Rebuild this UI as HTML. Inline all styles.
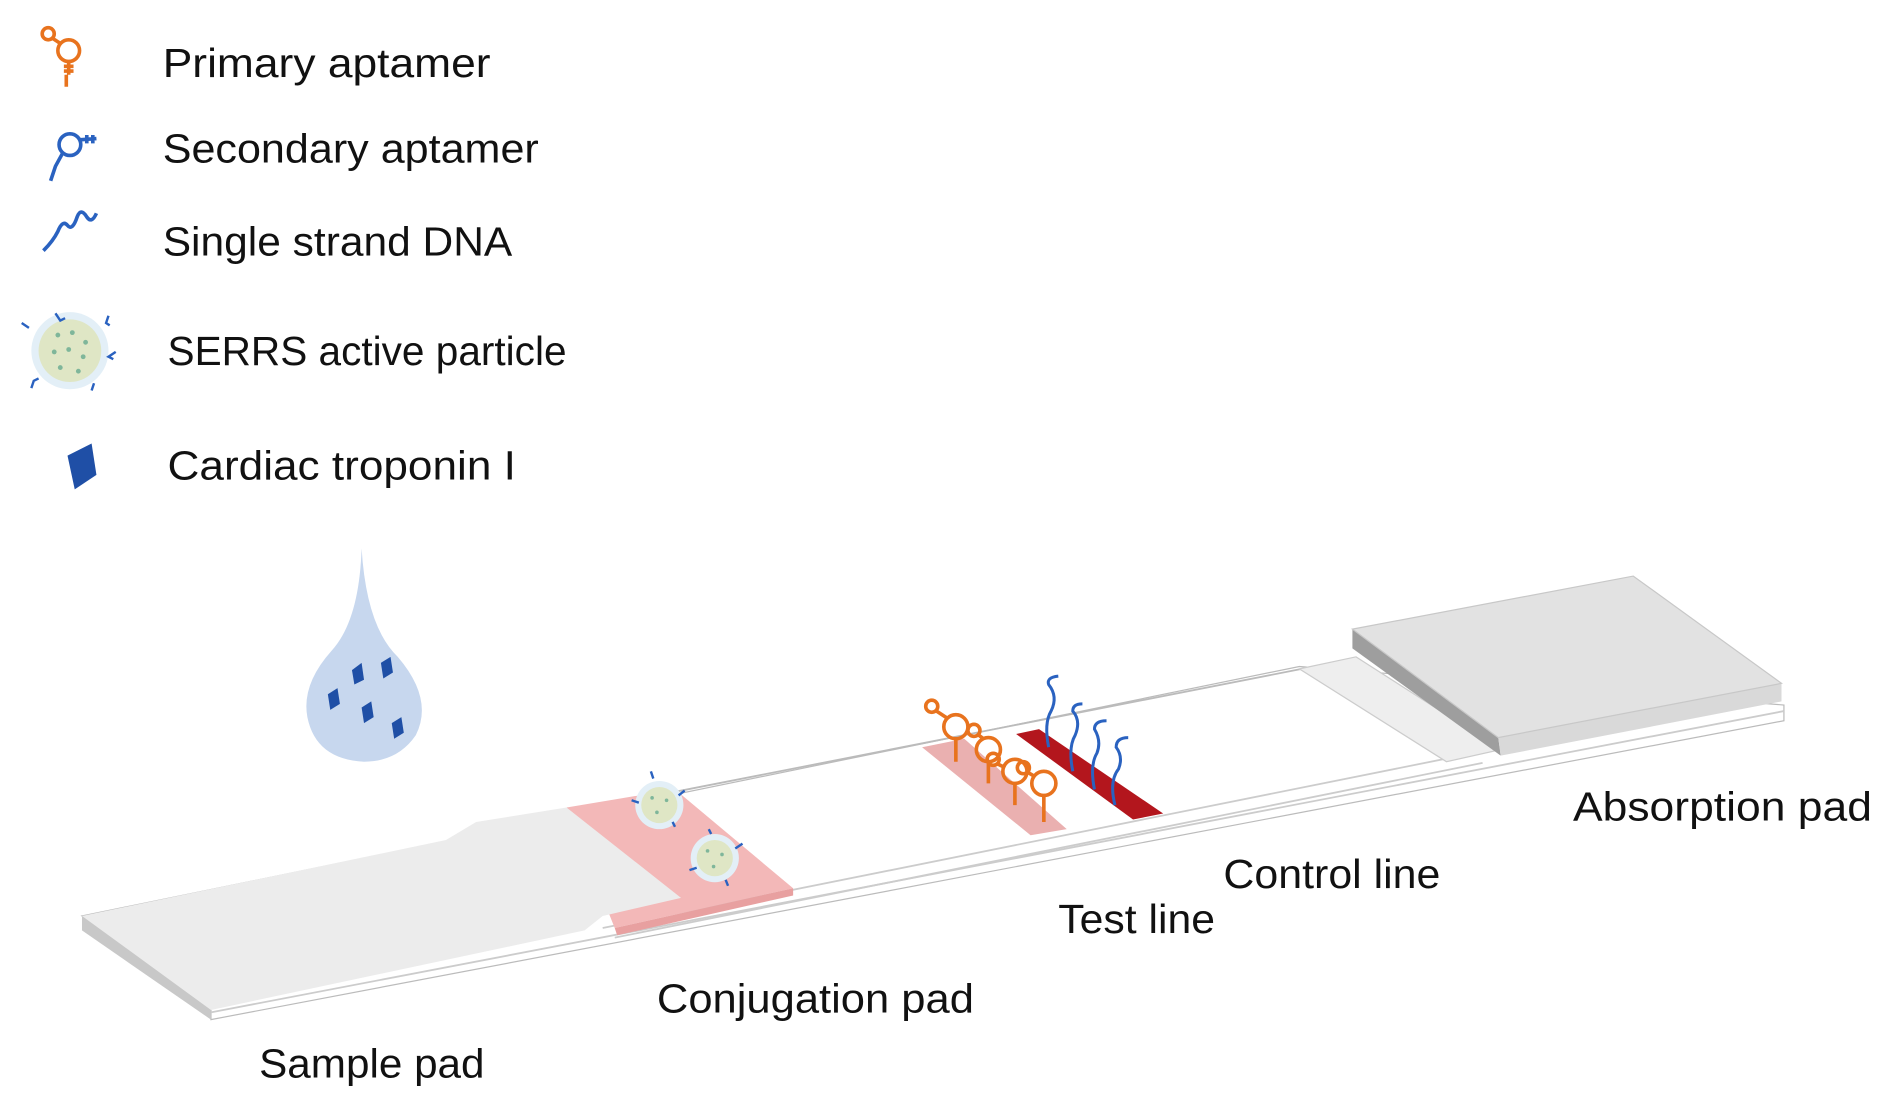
<!DOCTYPE html>
<html><head><meta charset="utf-8"><style>
html,body{margin:0;padding:0;background:#fff;width:1890px;height:1110px;overflow:hidden}
svg{display:block}
text{font-family:"Liberation Sans",sans-serif;fill:#111}
</style></head><body>
<svg width="1890" height="1110" viewBox="0 0 1568 921" preserveAspectRatio="none" xmlns="http://www.w3.org/2000/svg">
<!-- Legend icons -->
<g fill="none" stroke="#e8731e" stroke-width="3">
<circle cx="40" cy="28" r="5"/><path d="M44 32 L50 36"/><circle cx="57" cy="42" r="9"/><path d="M57 51 L57 62 M53 55 L61 55 M53 59 L61 59 M55 62 L55 72"/>
</g>
<g fill="none" stroke="#2a62c0" stroke-width="3">
<circle cx="58" cy="120" r="9"/><path d="M66 116 L80 115 M72 112 L72 119 M77 112 L77 119 M52 127 L46 138 L42 150"/>
<path d="M36 208 Q44 200 48 192 Q52 182 56 187 Q60 192 64 180 Q67 172 72 180 Q76 186 80 177"/>
</g>
<circle cx="58" cy="291" r="32" fill="#e3eff7"/><circle cx="58" cy="291" r="26" fill="#dfe6c5"/>
<g fill="#7fb69a"><circle cx="48" cy="278" r="2"/><circle cx="60" cy="276" r="2"/><circle cx="71" cy="284" r="2"/><circle cx="45" cy="292" r="2"/><circle cx="57" cy="290" r="2"/><circle cx="69" cy="296" r="2"/><circle cx="50" cy="305" r="2"/><circle cx="65" cy="308" r="2"/></g>
<g fill="none" stroke="#2a62c0" stroke-width="2"><path d="M46 260 l4 6 l4 -2 M90 262 l-2 6 l3 2 M18 268 l6 4 M96 292 l-6 4 l4 2 M26 322 l2 -6 l4 -2 M76 324 l2 -6"/></g>
<polygon points="56,378 76,368 80,394 62,406" fill="#1f4fa6"/>
<g font-size="34">
<text x="135" y="64" textLength="272" lengthAdjust="spacingAndGlyphs">Primary aptamer</text>
<text x="135" y="135" textLength="312" lengthAdjust="spacingAndGlyphs">Secondary aptamer</text>
<text x="135" y="212" textLength="290" lengthAdjust="spacingAndGlyphs">Single strand DNA</text>
<text x="139" y="303" textLength="331" lengthAdjust="spacingAndGlyphs">SERRS active particle</text>
<text x="139" y="398" textLength="289" lengthAdjust="spacingAndGlyphs">Cardiac troponin I</text>
</g>
<!-- droplet -->
<path d="M300 455 Q304 520 330 545 Q360 580 345 610 Q330 632 302 632 Q262 630 255 595 Q250 568 275 540 Q298 515 300 455 Z" fill="#c7d7ee"/>
<g fill="#1f4fa6"><polygon points="292,556 300,550 302,564 294,568"/><polygon points="316,550 324,545 326,558 318,563"/><polygon points="272,576 280,571 282,584 274,589"/><polygon points="300,587 308,582 310,595 302,600"/><polygon points="325,600 333,595 335,608 327,613"/></g>
<!-- backing strip -->
<polygon points="68,760 1078,553 1480,585 1480,598 175,846 175,838" fill="#fff" stroke="#bbb" stroke-width="1"/>
<polygon points="68,760 175,838 175,846 68,772" fill="#c8c8c8"/>
<line x1="175" y1="840" x2="1480" y2="590" stroke="#ccc" stroke-width="1.5"/>
<line x1="500" y1="770" x2="1222" y2="625" stroke="#ccc" stroke-width="1.5"/>
<line x1="510" y1="778" x2="1230" y2="633" stroke="#ccc" stroke-width="1.5"/>
<line x1="560" y1="657" x2="1080" y2="555" stroke="#bbb" stroke-width="1.5"/>
<!-- conjugation pad -->
<polygon points="470,670 560,655 658,737 510,770" fill="#f3b8b8"/>
<polygon points="658,737 658,743 512,776 510,770" fill="#e8a0a0"/>
<!-- sample pad -->
<polygon points="68,760 370,697 395,682 470,670 565,745 500,760 485,772 175,838" fill="#ececec"/>
<!-- test & control line -->
<polygon points="765,620 800,613 885,688 855,693" fill="#eab0b0"/>
<polygon points="843,609 862,605 965,675 940,680" fill="#b3161d"/>
<!-- aptamers on test line -->
<g fill="none" stroke="#e8731e" stroke-width="3">
<circle cx="773" cy="586" r="5"/><circle cx="793" cy="603" r="10"/><path d="M777 590 L786 596 M793 613 L793 632"/>
<circle cx="808" cy="606" r="5"/><circle cx="820" cy="622" r="10"/><path d="M812 610 L816 613 M820 632 L820 650"/>
<circle cx="824" cy="630" r="5"/><circle cx="842" cy="640" r="10"/><path d="M828 634 L834 637 M842 650 L842 668"/>
<circle cx="849" cy="637" r="5"/><circle cx="866" cy="650" r="10"/><path d="M853 641 L858 644 M866 660 L866 682"/>
</g>
<!-- DNA on control line -->
<g fill="none" stroke="#2a62c0" stroke-width="2.5">
<path d="M870 620 Q866 600 872 590 Q878 578 870 568 Q868 562 878 561"/>
<path d="M890 640 Q886 620 892 610 Q897 598 890 590 Q890 584 898 584"/>
<path d="M908 655 Q904 635 910 625 Q914 615 908 605 Q908 598 918 598"/>
<path d="M925 668 Q920 648 928 638 Q932 628 926 620 Q926 612 936 612"/>
</g>
<!-- particles -->
<g>
<circle cx="547" cy="668" r="20" fill="#e3eff7"/><circle cx="547" cy="668" r="15" fill="#dfe6c5"/>
<circle cx="593" cy="712" r="20" fill="#e3eff7"/><circle cx="593" cy="712" r="15" fill="#dfe6c5"/>
<g fill="#7fb69a"><circle cx="541" cy="662" r="1.5"/><circle cx="553" cy="664" r="1.5"/><circle cx="545" cy="674" r="1.5"/><circle cx="587" cy="706" r="1.5"/><circle cx="599" cy="709" r="1.5"/><circle cx="592" cy="719" r="1.5"/></g>
<g fill="none" stroke="#2a62c0" stroke-width="2"><path d="M540 640 l2 6 M568 656 l-5 4 M524 664 l6 2 M560 686 l-2 -4 M588 688 l2 4 M616 700 l-6 4 M572 722 l6 -2 M604 735 l-2 -5"/></g>
</g>
<!-- absorption pad -->
<polygon points="1078,555 1125,545 1245,622 1200,632" fill="#eeeeee" stroke="#ccc" stroke-width="1"/>
<polygon points="1122,522 1243,612 1245,627 1122,538" fill="#9e9e9e"/>
<polygon points="1243,612 1478,567 1478,582 1245,627" fill="#d9d9d9"/>
<polygon points="1122,522 1355,478 1478,567 1243,612" fill="#e2e2e2" stroke="#c8c8c8" stroke-width="1"/>
<!-- labels -->
<g font-size="34">
<text x="1305" y="681" textLength="248" lengthAdjust="spacingAndGlyphs">Absorption pad</text>
<text x="1015" y="737" textLength="180" lengthAdjust="spacingAndGlyphs">Control line</text>
<text x="878" y="774" textLength="130" lengthAdjust="spacingAndGlyphs">Test line</text>
<text x="545" y="840" textLength="263" lengthAdjust="spacingAndGlyphs">Conjugation pad</text>
<text x="215" y="894" textLength="187" lengthAdjust="spacingAndGlyphs">Sample pad</text>
</g>
</svg>
</body></html>
